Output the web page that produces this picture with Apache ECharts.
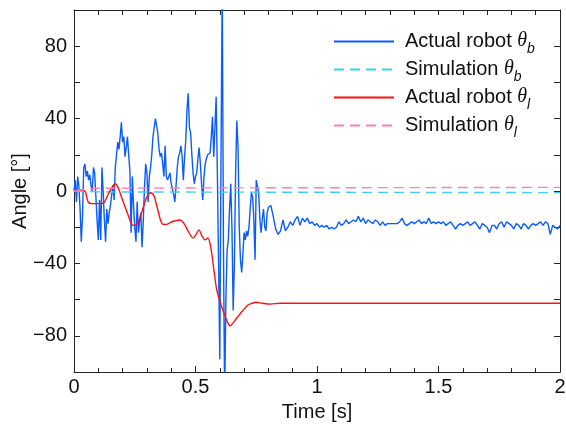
<!DOCTYPE html>
<html>
<head>
<meta charset="utf-8">
<script src="https://cdn.jsdelivr.net/npm/echarts@6/dist/echarts.min.js"></script>
<style>html,body{margin:0;padding:0;background:#fff;}#c{width:566px;height:428px;}</style>
</head>
<body>
<div id="c"></div>
<script>
// Actual robot theta_b, sampled every 0.005 s from t = 0 to 0.8 s
const blueEarly = [
  0, 6, -6, 8, 3, -10, -28, -14, 13, 15,
  8, 11, 6, 9, 3, 0, 13, 10, 11, -16,
  -27, -5, -27, 13, 0, -16, -28, -10, -18, -12,
  -8, -2, 3, -5, 13, 20, 27, 23, 30, 38,
  27, 30, 19, 24, 30, 20, 11, -23, 8, -8,
  -20, -28, -6, -23, -17, -12, -31, -17, 2, 15,
  10, -6, 8, 13, 20, 30, 31, 40, 36, 32,
  23, 19, 21, 15, 8, 25, 8, 6, 8, 10,
  4, 3, -2, -6, 3, 13, 19, 21, 25, 19,
  6, 19, 28, 45, 54, 35, 32, 20, 10, 4,
  8, 10, 18, 24, 15, 4, -5, 8, 15, 18,
  20, 19, 21, 30, 41, 19, 35, 52, 10, -40,
  -93, 20, 115, -30, -115, -60, -33, -27, -10, 4,
  -20, -66, -40, 10, 39, 25, -20, -38, -45, -35,
  -23, -27, -22, -25, -20, -10, -1, -3, -15, -38,
  6, 7, -1, -16, -23, -15, -10, -20, -22, -12, -9
];
// Actual robot theta_b, sampled every 0.01 s from t = 0.81 to 2.0 s
const blueLate = [
  -8, -14, -21, -24, -22, -16, -22, -20, -17, -19,
  -16, -14, -19, -15, -17, -15, -18, -17, -19, -18,
  -20, -19, -20, -19, -21, -20, -21, -20, -17, -19,
  -18, -16, -18, -17, -16, -17, -14, -17, -15, -18,
  -16, -17, -18, -16, -17, -19, -17, -19, -18, -18,
  -18, -18, -18, -17, -15, -18, -19, -18, -17, -18,
  -17, -16, -18, -17, -18, -15, -18, -17, -18, -17,
  -18, -17, -19, -18, -17, -19, -21, -19, -18, -19,
  -18, -17, -19, -18, -17, -19, -21, -18, -19, -20,
  -23, -19, -19, -21, -18, -17, -20, -17, -18, -19,
  -21, -18, -19, -21, -18, -19, -21, -19, -18, -19,
  -18, -17, -19, -17, -18, -24, -19, -20, -21, -19
];
// Actual robot theta_l
const redTime = [0, 0.025, 0.045, 0.058, 0.074, 0.107, 0.123, 0.14, 0.156, 0.169, 0.181, 0.2, 0.222, 0.243, 0.26, 0.276, 0.292, 0.305, 0.317, 0.33, 0.342, 0.362, 0.379, 0.403, 0.436, 0.453, 0.469, 0.49, 0.502, 0.514, 0.527, 0.539, 0.551, 0.564, 0.576, 0.588, 0.601, 0.613, 0.63, 0.642, 0.654, 0.671, 0.695, 0.716, 0.733, 0.749, 0.774, 0.807, 0.85, 1.0, 1.5, 2.0];
const redValues = [0, 0.5, 0, -6, -7, -7, -6.5, -2, 2, 4, 2, -5, -13, -19, -18, -13, -6, -2, -1, -3, -9, -18, -18.5, -17, -16, -18, -22, -26, -24, -21.5, -25, -27, -26, -32, -44, -55, -61, -66, -72, -74.5, -73, -70, -66, -63, -62, -61.5, -62, -62.5, -62, -62, -62, -62];
// Simulations
const simTime = [0, 0.05, 0.1, 0.5, 1.0, 1.5, 2.0];
const simB = [0, -0.3, -0.5, -0.6, -0.7, -0.8, -0.9];
const simL = [0, 1, 1.5, 1.7, 1.8, 1.9, 2.0];

const xTicks = [0, 0.5, 1, 1.5, 2];
const yTicks = [-80, -40, 0, 40, 80];
const names = ['Actual robot θb', 'Simulation θb', 'Actual robot θl', 'Simulation θl'];

const blueData = blueEarly.map((v, i) => [+(i * 0.005).toFixed(3), v])
  .concat(blueLate.map((v, i) => [+(0.81 + i * 0.01).toFixed(2), v]));
const redData = redTime.map((t, i) => [t, redValues[i]]);
const simBData = simTime.map((t, i) => [t, simB[i]]);
const simLData = simTime.map((t, i) => [t, simL[i]]);

const FONT = 'Liberation Sans';
const FS = 20;
const AX = '#262626';
const fmtX = v => (xTicks.some(t => Math.abs(t - v) < 1e-9) ? String(v) : '');
const fmtY = v => (yTicks.indexOf(v) >= 0 ? (v < 0 ? '\u2212' + (-v) : String(v)) : '');

const chart = echarts.init(document.getElementById('c'), null, {renderer: 'canvas'});
const baseAxis = {
  axisLine: {show: true, onZero: false, lineStyle: {color: AX, width: 1}},
  splitLine: {show: false},
  minorSplitLine: {show: false}
};
chart.setOption({
  animation: false,
  backgroundColor: '#fff',
  grid: {left: 74, right: 6, top: 10, bottom: 56, containLabel: false, outerBoundsMode: 'none'},
  legend: {
    orient: 'vertical', left: 333, top: 31, padding: 0,
    itemWidth: 60, itemHeight: 12, itemGap: 3,
    itemStyle: {opacity: 0},
    data: names,
    formatter: function (name) {
      const m = {
        'Actual robot θb': '{n|Actual robot }{t|θ}{s|b}',
        'Simulation θb': '{n|Simulation }{t|θ}{s|b}',
        'Actual robot θl': '{n|Actual robot }{t|θ}{s|l}',
        'Simulation θl': '{n|Simulation }{t|θ}{s|l}'
      };
      return m[name];
    },
    textStyle: {
      fontSize: FS, fontFamily: FONT, color: '#111', padding: [0, 0, 0, 6],
      rich: {
        n: {fontSize: FS, fontFamily: FONT, color: '#111', lineHeight: 21, verticalAlign: 'top'},
        t: {fontSize: FS, fontFamily: 'Liberation Serif', fontStyle: 'italic', color: '#111', lineHeight: 21, verticalAlign: 'top'},
        s: {fontSize: 14, fontFamily: FONT, fontStyle: 'italic', color: '#111', lineHeight: 14, verticalAlign: 'top', padding: [11, 0, 0, 0]}
      }
    }
  },
  xAxis: [
    Object.assign({}, baseAxis, {
      type: 'value', min: 0, max: 2, interval: 0.5, position: 'bottom',
      name: 'Time [s]', nameLocation: 'middle', nameGap: 30, nameMoveOverlap: false,
      nameTextStyle: {fontSize: FS, fontFamily: FONT, color: '#111'},
      axisTick: {show: true, inside: true, length: 6, lineStyle: {color: AX}},
      minorTick: {show: true, splitNumber: 5, length: 4, lineStyle: {color: AX}},
      axisLabel: {show: true, fontSize: FS, fontFamily: FONT, color: '#111', margin: 5, formatter: fmtX}
    }),
    Object.assign({}, baseAxis, {
      type: 'value', min: 0, max: 2, interval: 0.5, position: 'top',
      axisTick: {show: true, inside: true, length: 5, lineStyle: {color: AX}},
      minorTick: {show: true, splitNumber: 5, length: 5, lineStyle: {color: AX}},
      axisLabel: {show: false}
    })
  ],
  yAxis: [
    Object.assign({}, baseAxis, {
      type: 'value', min: -100, max: 100, interval: 20, position: 'left',
      name: 'Angle [°]', nameLocation: 'middle', nameGap: 44, nameRotate: 90, nameMoveOverlap: false,
      nameTextStyle: {fontSize: FS, fontFamily: FONT, color: '#111'},
      axisTick: {show: true, inside: true, length: 6, lineStyle: {color: AX}},
      axisLabel: {show: true, fontSize: FS, fontFamily: FONT, color: '#111', margin: 7, formatter: fmtY}
    }),
    Object.assign({}, baseAxis, {
      type: 'value', min: -100, max: 100, interval: 20, position: 'right',
      axisTick: {show: true, inside: true, length: 6, lineStyle: {color: AX}},
      axisLabel: {show: false}
    })
  ],
  series: [
    {name: names[0], type: 'line', data: blueData, symbol: 'none', showSymbol: false, clip: true,
      lineStyle: {color: '#0a5cff', width: 1.4}, itemStyle: {color: '#0a5cff'}, z: 2},
    {name: names[1], type: 'line', data: simBData, symbol: 'none', showSymbol: false,
      lineStyle: {color: '#3fd0f0', width: 1.4, type: [10, 6]}, itemStyle: {color: '#3fd0f0'}, z: 3},
    {name: names[2], type: 'line', data: redData, symbol: 'none', showSymbol: false, smooth: 0.3,
      lineStyle: {color: '#ff1111', width: 1.4}, itemStyle: {color: '#ff1111'}, z: 4},
    {name: names[3], type: 'line', data: simLData, symbol: 'none', showSymbol: false,
      lineStyle: {color: '#f283b6', width: 1.4, type: [10, 6]}, itemStyle: {color: '#f283b6'}, z: 5}
  ]
});
</script>
</body>
</html>
